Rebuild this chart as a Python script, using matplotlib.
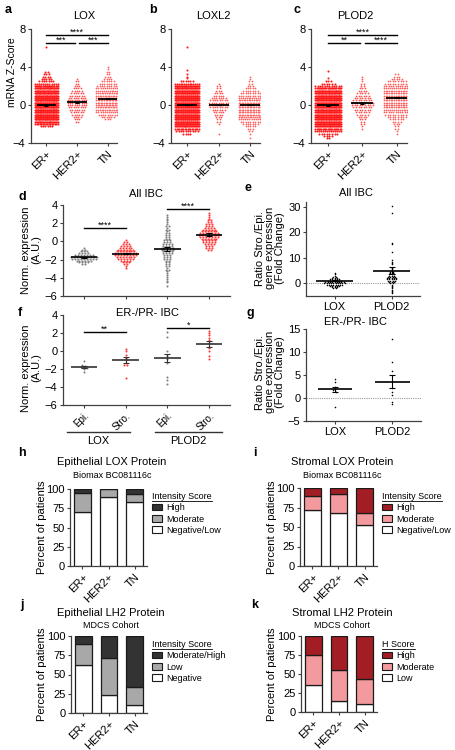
"""LOX / LOXL2 / PLOD2 expression and protein panels (a-k)."""

import matplotlib
matplotlib.use('Agg')
import matplotlib.pyplot as plt
from matplotlib.lines import Line2D
from matplotlib.patches import Patch
import numpy as np


_W, _H = 455, 750

# ---- a-c: mRNA z-scores; dots per 0.25-wide row (row start, counts) + outliers
SUBTYPES = ['ER+', 'HER2+', 'TN']
Z_STEP = 0.25

LOX_START = [-2.25, -1.75, -1.5]
LOX_ER = [6, 16, 26, 32, 36, 36, 36, 36, 36, 36, 36, 36, 34, 32, 30, 28, 26,
          22, 12, 7, 5, 4, 3, 2]
LOX_HER2 = [2, 3, 4, 5, 6, 7, 8, 9, 9, 9, 8, 7, 6, 5, 4, 3, 2, 2, 1]
LOX_TN = [3, 6, 9, 12, 14, 15, 16, 16, 16, 16, 15, 14, 13, 12, 10, 8, 6, 4, 3,
          2, 2, 1, 1]
LOX_EXTRA = [[6.1], [], []]
LOX_MEAN = [-0.05, 0.3, 0.65]

LOXL2_START = [-3.0, -2.0, -3.0]
LOXL2_ER = [4, 10, 18, 26, 32, 36, 36, 36, 36, 36, 36, 36, 36, 36, 36, 36, 36,
            36, 34, 30, 26, 14, 6]
LOXL2_HER2 = [1, 2, 2, 3, 4, 5, 6, 8, 9, 9, 8, 7, 5, 4, 3, 2, 2, 1]
LOXL2_TN = [1, 2, 3, 5, 7, 9, 12, 14, 16, 16, 16, 16, 16, 16, 15, 13, 11, 9, 7,
            5, 3, 2, 2, 1]
LOXL2_EXTRA = [[2.8, 3.0, 3.3, 3.7, 6.1], [-3.1], [-4.0, -3.5, 2.9]]
LOXL2_MEAN = [0.0, 0.0, 0.0]

PLOD2_START = [-3.5, -2.5, -3.0]
PLOD2_ER = [2, 4, 8, 14, 22, 28, 32, 36, 36, 36, 36, 36, 36, 36, 36, 36, 36, 36,
            36, 34, 30, 24, 12, 6, 3]
PLOD2_HER2 = [1, 1, 2, 2, 3, 4, 5, 6, 7, 8, 9, 9, 8, 7, 6, 5, 4, 3, 2, 2, 1, 1, 1]
PLOD2_TN = [1, 1, 2, 2, 3, 4, 6, 8, 10, 12, 14, 16, 16, 16, 16, 16, 16, 16, 16,
            14, 12, 10, 8, 5, 3, 2]
PLOD2_EXTRA = [[2.8, 3.6], [], []]
PLOD2_MEAN = [-0.05, 0.2, 0.75]

# ---- d: all IBC, normalised expression; dots per 0.2-wide row
NORM_GROUPS = ['Epi.', 'Stro.', 'Epi.', 'Stro.']
NORM_STEP = 0.2
ALL_START = [-2.5, -2.9, -4.9, -0.9]
ALL_LOX_EPI = [2, 4, 6, 9, 10, 7, 4, 3, 2, 1]
ALL_LOX_STRO = [1, 1, 2, 3, 4, 6, 7, 8, 8, 7, 6, 5, 4, 3, 2, 1]
ALL_PLOD2_EPI = [1, 0, 1, 1, 1, 1, 1, 1, 1, 2, 1, 2, 2, 2, 2, 3, 3, 3, 4, 4, 5,
                 5, 4, 4, 3, 3, 2, 2, 2, 2, 1, 2, 1, 2, 1, 1, 1, 1, 1, 1]
ALL_PLOD2_STRO = [2, 3, 3, 4, 5, 5, 6, 7, 8, 7, 6, 5, 4, 3, 3, 2, 2, 1, 1, 1, 1]
ALL_MEAN = [-1.75, -1.35, -0.85, 0.75]
ALL_SEM = [0.06, 0.08, 0.2, 0.12]

# ---- f: ER-/PR- IBC, single values
NEG_LOX_EPI = [-1.1, -1.5, -1.7, -1.8, -1.8, -1.9, -2.0, -2.3]
NEG_LOX_STRO = [0.2, 0.0, -0.4, -0.8, -1.0, -1.3, -1.5, -1.6, -3.0]
NEG_PLOD2_EPI = [2.1, 1.6, 0.0, -0.5, -0.9, -1.3, -2.9, -3.2, -3.7]
NEG_PLOD2_STRO = [2.2, 2.0, 1.8, 1.5, 1.2, 0.9, 0.5, 0.3, 0.0, -0.5, -0.9]
NEG_MEAN = [-1.8, -1.0, -0.75, 0.8]
NEG_SEM = [0.1, 0.3, 0.45, 0.35]

# ---- e, g: stroma / epithelium fold change
GENES = ['LOX', 'PLOD2']
FC_STEP = 0.5
FC_ALL_START = [-2.0, -4.0]
FC_ALL_LOX = [2, 3, 5, 8, 10, 9, 7, 5, 3, 2, 1, 1, 1]
FC_ALL_PLOD2 = [1, 1, 1, 1, 1, 1, 1, 1, 2, 3, 4, 5, 5, 4, 3, 3, 2, 2, 1, 1, 1,
                0, 0, 1, 1, 1, 1]
FC_ALL_EXTRA = [[], [12.5, 15.5, 15.8, 27.5, 30.5]]
FC_ALL_MEAN = [1.1, 5.0]
FC_ALL_SEM = [0.25, 1.4]

FC_NEG_LOX = [4.2, 3.5, 2.3, 2.0, 1.7, 1.4, -2.0]
FC_NEG_PLOD2 = [12.8, 7.8, 5.8, 2.2, 1.2, 0.6, -0.8, -1.3]
FC_NEG_MEAN = [1.95, 3.5]
FC_NEG_SEM = [0.55, 1.4]

# ---- h-k: percent of patients per score
EPI_LOX_NEG = [70, 90, 83]
EPI_LOX_MOD = [25, 10, 11]
EPI_LOX_HIGH = [5, 0, 6]

STRO_LOX_NEG = [72, 68, 52]
STRO_LOX_MOD = [18, 24, 16]
STRO_LOX_HIGH = [10, 8, 32]

EPI_LH2_NEG = [62, 23, 11]
EPI_LH2_LOW = [27, 49, 23]
EPI_LH2_HIGH = [11, 28, 66]

STRO_LH2_LOW = [35, 14, 10]
STRO_LH2_MOD = [40, 41, 34]
STRO_LH2_HIGH = [25, 45, 56]

_Z_COLORS = ['#ff1a1a', '#ff5252', '#ff6060']
_Z_SIZES = [2.2, 1.6, 1.6]
_EPI_COLOR = '#808080'
_STRO_COLOR = '#ff3a3a'
_GREYS = ['white', '#a8a8a8', '#333333']
_REDS = ['white', '#f29a9e', '#a31d24']
_SPINE = '#404040'
_FS = 8


def _main():
    plt.rcParams['font.family'] = ['Liberation Sans', 'DejaVu Sans']
    plt.rcParams['axes.linewidth'] = 0.9
    plt.rcParams['axes.edgecolor'] = _SPINE
    plt.rcParams['xtick.color'] = _SPINE
    plt.rcParams['ytick.color'] = _SPINE
    plt.rcParams['xtick.labelcolor'] = 'black'
    plt.rcParams['ytick.labelcolor'] = 'black'
    plt.rcParams['xtick.major.size'] = 2.5
    plt.rcParams['ytick.major.size'] = 2.5
    plt.rcParams['xtick.major.pad'] = 1.5
    plt.rcParams['ytick.major.pad'] = 1.5

    fig = plt.figure(figsize=(_W / 100, _H / 100), dpi=100)

    _plot_zscores(fig, (31, 29, 117, 143), 'LOX', 84, LOX_START,
                  [LOX_ER, LOX_HER2, LOX_TN], LOX_EXTRA, LOX_MEAN,
                  ['***', '***', '****'], ylabel=True)
    _plot_zscores(fig, (171, 29, 260, 143), 'LOXL2', 213, LOXL2_START,
                  [LOXL2_ER, LOXL2_HER2, LOXL2_TN], LOXL2_EXTRA, LOXL2_MEAN,
                  None)
    _plot_zscores(fig, (311, 29, 407, 143), 'PLOD2', 355, PLOD2_START,
                  [PLOD2_ER, PLOD2_HER2, PLOD2_TN], PLOD2_EXTRA, PLOD2_MEAN,
                  ['**', '****', '****'])

    _plot_all_ibc(fig)
    _plot_neg_ibc(fig)
    _plot_fold_all(fig)
    _plot_fold_neg(fig)

    _plot_stack(fig, (70, 489, 147, 566), 'Epithelial LOX Protein',
                'Biomax BC081116c', 112, 462,
                [EPI_LOX_NEG, EPI_LOX_MOD, EPI_LOX_HIGH], _GREYS,
                ['Negative/Low', 'Moderate', 'High'], 'Intensity Score',
                (152, 492), 42)
    _plot_stack(fig, (300, 488, 377, 566), 'Stromal LOX Protein',
                'Biomax BC081116c', 342, 462,
                [STRO_LOX_NEG, STRO_LOX_MOD, STRO_LOX_HIGH], _REDS,
                ['Negative/Low', 'Moderate', 'High'], 'Intensity Score',
                (382, 492), 272)
    _plot_stack(fig, (71, 636, 147, 713), 'Epithelial LH2 Protein',
                'MDCS Cohort', 111, 613,
                [EPI_LH2_NEG, EPI_LH2_LOW, EPI_LH2_HIGH], _GREYS,
                ['Negative', 'Low', 'Moderate/High'], 'Intensity Score',
                (152, 640), 42)
    _plot_stack(fig, (301, 636, 377, 712), 'Stromal LH2 Protein',
                'MDCS Cohort', 342, 613,
                [STRO_LH2_LOW, STRO_LH2_MOD, STRO_LH2_HIGH], _REDS,
                ['Low', 'Moderate', 'High'], 'H Score',
                (382, 640), 272)

    for letter, x, y in [('a', 8, 10), ('b', 153, 10), ('c', 297, 10),
                         ('d', 22, 197), ('e', 248, 188), ('f', 20, 313),
                         ('g', 250, 313), ('h', 22, 453), ('i', 255, 453),
                         ('j', 22, 605), ('k', 255, 605)]:
        _text(fig, x, y, letter, size=9, weight='bold')

    fig.canvas.draw()
    for leg in _LEGENDS:
        bb = leg.get_title().get_window_extent()
        fig.add_artist(Line2D([bb.x0, bb.x1], [bb.y0 + 0.5, bb.y0 + 0.5],
                              transform=None, color='black', lw=0.6))

    fig.savefig('out.png', dpi=100)


_LEGENDS = []


def _add_axes(fig, left, top, right, bottom):
    ax = fig.add_axes([left / _W, 1 - bottom / _H, (right - left) / _W,
                       (bottom - top) / _H])
    ax.spines['top'].set_visible(False)
    ax.spines['right'].set_visible(False)
    ax.tick_params(axis='y', labelsize=_FS)
    return ax


def _text(fig, x, y, s, **kwargs):
    kwargs.setdefault('ha', 'center')
    kwargs.setdefault('va', 'center')
    fig.text(x / _W, 1 - y / _H, s, **kwargs)


def _row_points(center, start, step, counts, dx, max_w):
    xs, ys = [], []
    for i, n in enumerate(counts):
        if n == 0:
            continue
        gap = dx if n == 1 else min(dx, max_w / (n - 1))
        xs.extend(center + (np.arange(n) - (n - 1) / 2) * gap)
        ys.extend([start + i * step] * n)
    return xs, ys


def _value_points(center, values, step, dx):
    xs, ys = [], []
    keys = np.round(np.asarray(values, dtype=float) / step)
    for k in np.unique(keys):
        row = [v for v, kk in zip(values, keys) if kk == k]
        n = len(row)
        xs.extend(center + (np.arange(n) - (n - 1) / 2) * dx)
        ys.extend(row)
    return xs, ys


def _mean_sem(ax, x, means, sems, half, cap, lw=1.2, color='black'):
    x = np.asarray(x, dtype=float)
    ax.hlines(means, x - half, x + half, color=color, lw=lw, zorder=4)
    ax.errorbar(x, means, yerr=sems, fmt='none', ecolor=color, elinewidth=0.8,
                capsize=cap, capthick=0.8, zorder=4)


def _sig(ax, x0, x1, y, label, dy, size=6.5):
    ax.plot([x0, x1], [y, y], color='black', lw=1.0, clip_on=False)
    ax.text((x0 + x1) / 2, y + dy, label, ha='center', va='center',
            fontsize=size, clip_on=False)


def _plot_zscores(fig, box, title, title_x, starts, counts, extras, means,
                  stars, ylabel=False):
    ax = _add_axes(fig, *box)
    for i in range(3):
        xs, ys = _row_points(i, starts[i], Z_STEP, counts[i], 0.075, 0.74)
        ex, ey = _value_points(i, extras[i], Z_STEP, 0.075)
        ax.scatter(xs + ex, ys + ey, s=_Z_SIZES[i], color=_Z_COLORS[i], lw=0,
                   zorder=2)
    _mean_sem(ax, range(3), means, [0.05] * 3, 0.32, 1.5, lw=1.3)
    if stars:
        _sig(ax, 0, 0.93, 6.5, stars[0], 0.35)
        _sig(ax, 1.07, 2, 6.5, stars[1], 0.35)
        _sig(ax, 0, 2, 7.35, stars[2], 0.35)
    ax.set_xlim(-0.5, 2.3)
    ax.set_ylim(-4, 8)
    ax.set_yticks([-4, 0, 4, 8])
    ax.set_xticks(range(3))
    ax.set_xticklabels(SUBTYPES, rotation=45, ha='right',
                       rotation_mode='anchor', fontsize=_FS)
    _text(fig, title_x, 16, title, size=_FS)
    if ylabel:
        _text(fig, 12, 72, 'mRNA Z-Score', size=7.5, rotation=90)


def _norm_axes(fig, box):
    ax = _add_axes(fig, *box)
    ax.set_xlim(-0.5, 3.5)
    ax.set_ylim(-6, 4)
    ax.set_yticks(range(-6, 5, 2))
    ax.set_xticks(range(4))
    return ax


def _plot_all_ibc(fig):
    ax = _norm_axes(fig, (63, 205, 230, 296))
    groups = [ALL_LOX_EPI, ALL_LOX_STRO, ALL_PLOD2_EPI, ALL_PLOD2_STRO]
    for i, counts in enumerate(groups):
        xs, ys = _row_points(i, ALL_START[i], NORM_STEP, counts, 0.07, 0.62)
        color = _EPI_COLOR if i % 2 == 0 else _STRO_COLOR
        ax.scatter(xs, ys, s=2.2, color=color, lw=0, zorder=2)
    _mean_sem(ax, range(4), ALL_MEAN, ALL_SEM, 0.32, 2.5)
    _sig(ax, 0, 1, 1.5, '****', 0.3)
    _sig(ax, 2, 3, 3.55, '****', 0.3)
    ax.set_xticklabels([])
    _text(fig, 146, 194, 'All IBC', size=_FS)
    _text(fig, 31, 250, 'Norm. expression\n(A.U.)', size=_FS, rotation=90,
          linespacing=1.0)


def _plot_neg_ibc(fig):
    ax = _norm_axes(fig, (63, 315, 230, 405))
    groups = [NEG_LOX_EPI, NEG_LOX_STRO, NEG_PLOD2_EPI, NEG_PLOD2_STRO]
    for i, values in enumerate(groups):
        xs, ys = _value_points(i, values, NORM_STEP, 0.07)
        color = _EPI_COLOR if i % 2 == 0 else _STRO_COLOR
        ax.scatter(xs, ys, s=2.2, color=color, lw=0, zorder=2)
    _mean_sem(ax, range(4), NEG_MEAN, NEG_SEM, 0.32, 2.5, color='#333333')
    _sig(ax, 0, 1, 2.1, '**', 0.3)
    _sig(ax, 2, 3, 2.55, '*', 0.3)
    ax.set_xticklabels(NORM_GROUPS, rotation=45, ha='right',
                       rotation_mode='anchor', fontsize=7)
    trans = ax.get_xaxis_transform()
    for gene, x0, x1, xc in [('LOX', -0.4, 1.1, 0.35),
                             ('PLOD2', 1.7, 3.3, 2.5)]:
        ax.plot([x0, x1], [-0.3, -0.3], color='#333333', lw=1.0,
                transform=trans, clip_on=False)
        ax.text(xc, -0.4, gene, transform=trans, ha='center', va='center',
                fontsize=_FS)
    _text(fig, 148, 313, 'ER-/PR- IBC', size=_FS)
    _text(fig, 31, 368, 'Norm. expression\n(A.U.)', size=_FS, rotation=90,
          linespacing=1.0)


def _fold_axes(fig, box, ylim, yticks, title, title_y, label_y):
    ax = _add_axes(fig, *box)
    ax.axhline(0, color='#9a9a9a', lw=0.8, ls=(0, (1, 1)), zorder=1)
    ax.set_xlim(-0.5, 1.5)
    ax.set_ylim(*ylim)
    ax.set_yticks(yticks)
    ax.set_xticks(range(2))
    ax.set_xticklabels(GENES, fontsize=_FS)
    _text(fig, 356, title_y, title, size=_FS)
    _text(fig, 270, label_y,
          'Ratio Stro./Epi.\ngene expression\n(Fold Change)', size=_FS,
          rotation=90, linespacing=1.0)
    return ax


def _plot_fold_all(fig):
    ax = _fold_axes(fig, (306, 202, 420, 296), (-5, 32), [0, 10, 20, 30],
                    'All IBC', 193, 248)
    for i, counts in enumerate([FC_ALL_LOX, FC_ALL_PLOD2]):
        xs, ys = _row_points(i, FC_ALL_START[i], FC_STEP, counts, 0.04, 0.4)
        ex, ey = _value_points(i, FC_ALL_EXTRA[i], FC_STEP, 0.04)
        ax.scatter(xs + ex, ys + ey, s=1.3, color='black', lw=0, zorder=2)
    _mean_sem(ax, range(2), FC_ALL_MEAN, FC_ALL_SEM, 0.32, 2.5)


def _plot_fold_neg(fig):
    ax = _fold_axes(fig, (306, 329, 421, 421), (-5, 15), [-5, 0, 5, 10, 15],
                    'ER-/PR- IBC', 322, 372)
    for i, values in enumerate([FC_NEG_LOX, FC_NEG_PLOD2]):
        xs, ys = _value_points(i, values, FC_STEP, 0.05)
        ax.scatter(xs, ys, s=1.3, color='black', lw=0, zorder=2)
    _mean_sem(ax, range(2), FC_NEG_MEAN, FC_NEG_SEM, 0.3, 2.5)


def _plot_stack(fig, box, title, subtitle, title_x, title_y, layers, colors,
                labels, legend_title, legend_xy, label_x):
    ax = _add_axes(fig, *box)
    x = np.arange(3)
    bottom = np.zeros(3)
    handles = []
    for values, color, label in zip(layers, colors, labels):
        ax.bar(x, values, 0.65, bottom=bottom, color=color,
               edgecolor='#1a1a1a', lw=0.9)
        bottom += np.asarray(values)
        handles.append(Patch(facecolor=color, edgecolor='#1a1a1a', lw=0.8,
                             label=label))
    ax.set_xlim(-0.48, 2.48)
    ax.set_ylim(0, 100)
    ax.set_yticks([0, 25, 50, 75, 100])
    ax.set_xticks(x)
    ax.set_xticklabels(SUBTYPES, rotation=45, ha='right',
                       rotation_mode='anchor', fontsize=_FS)
    leg = ax.legend(handles=handles[::-1], title=legend_title,
                    loc='upper left', alignment='left',
                    bbox_to_anchor=(legend_xy[0] / _W, 1 - legend_xy[1] / _H),
                    bbox_transform=fig.transFigure, frameon=False,
                    fontsize=6.5, title_fontsize=6.5, handlelength=1.1,
                    handleheight=0.7, handletextpad=0.5, labelspacing=0.25,
                    borderpad=0, borderaxespad=0)
    _LEGENDS.append(leg)
    _text(fig, title_x, title_y, title, size=_FS)
    _text(fig, title_x, title_y + 13, subtitle, size=6.5)
    ylabel_y = (box[1] + box[3]) / 2
    _text(fig, label_x, ylabel_y, 'Percent of patients', size=_FS,
          rotation=90)


if __name__ == '__main__':
    _main()
